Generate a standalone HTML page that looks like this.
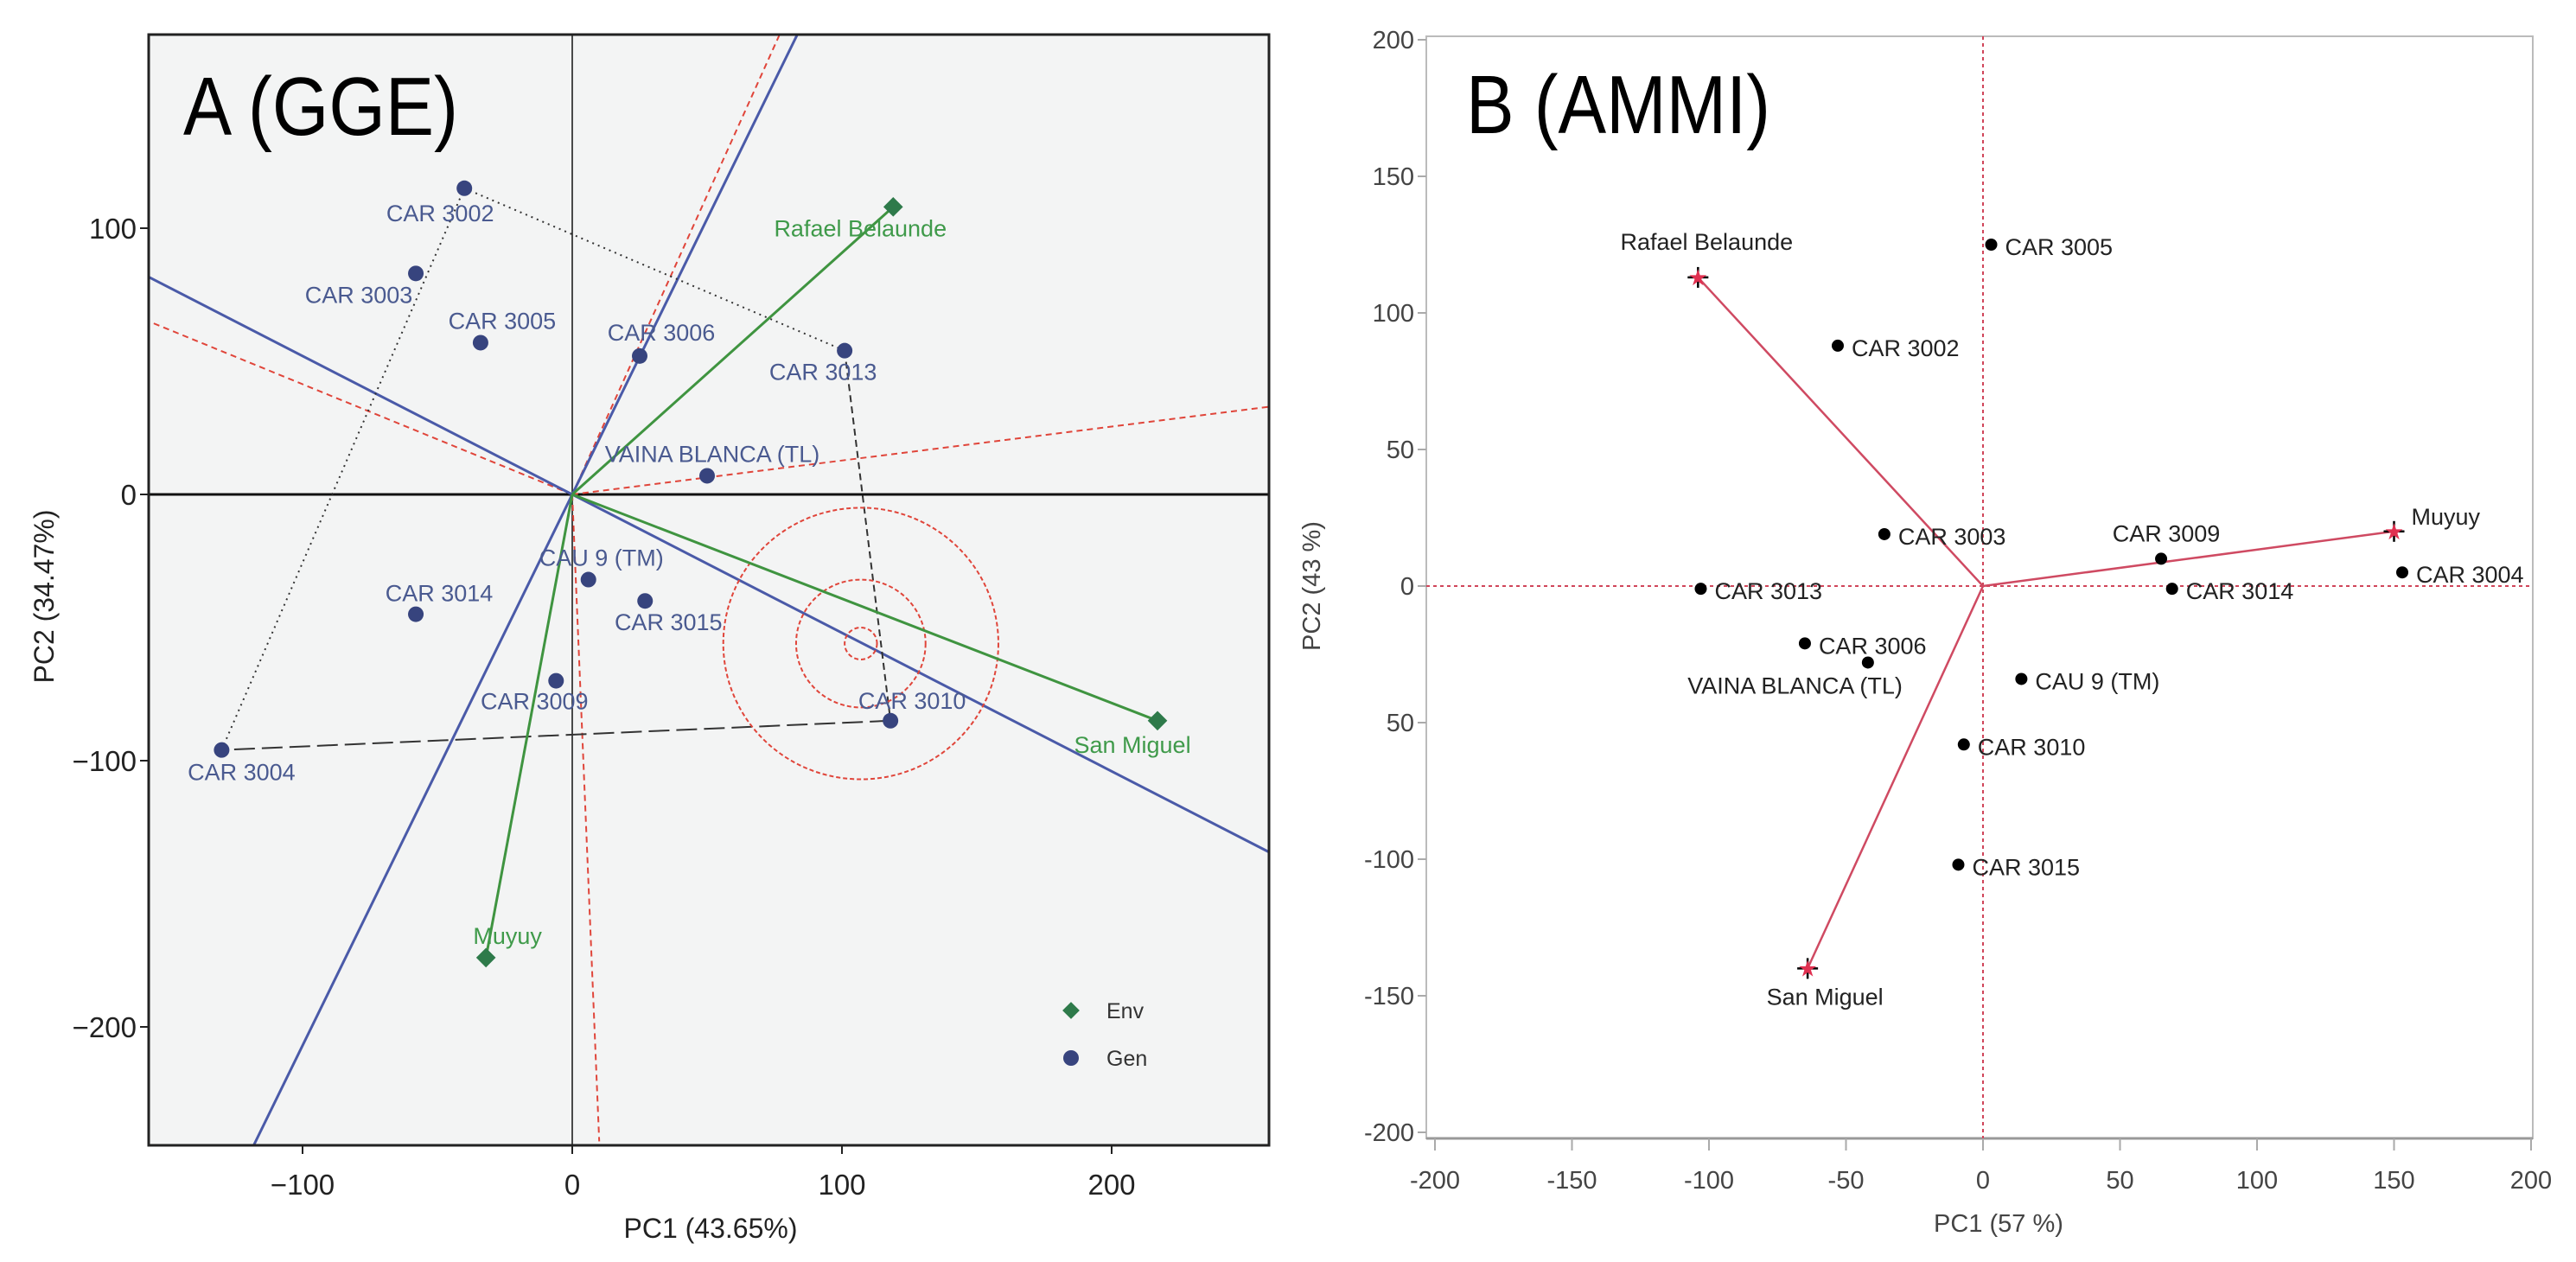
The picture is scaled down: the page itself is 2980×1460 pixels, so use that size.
<!DOCTYPE html>
<html><head><meta charset="utf-8"><style>
html,body{margin:0;padding:0;background:#fff;overflow:hidden;width:2980px;height:1460px}
svg{display:block}
text{font-family:"Liberation Sans",sans-serif}
</style></head><body>
<svg id="chart" width="2980" height="1460" viewBox="0 0 2980 1460" xmlns="http://www.w3.org/2000/svg">
<defs><clipPath id="clipA"><rect x="172" y="40" width="1296" height="1285"/></clipPath></defs>
<g id="pa"></g>
<g id="pb"></g>
</svg>
<script>
// ---------- Panel A (GGE) data ----------
const genNamesA = ["CAR 3002","CAR 3003","CAR 3005","CAR 3006","CAR 3013","VAINA BLANCA (TL)","CAU 9 (TM)","CAR 3015","CAR 3014","CAR 3009","CAR 3004","CAR 3010"];
const genPC1A = [-40,-58,-34,25,101,50,6,27,-58,-6,-130,118];
const genPC2A = [115,83,57,52,54,7,-32,-40,-45,-70,-96,-85];
const envNamesA = ["Rafael Belaunde","San Miguel","Muyuy"];
const envPC1A = [119,217,-32];
const envPC2A = [108,-85,-174];
const xTicksA = [-100,0,100,200];
const yTicksA = [100,0,-100,-200];
const blueSlopesA = [2.07,-0.52];
const redRayEndsX = [77,10,-157,259];
const redRayEndsY = [173,-243,65,33];
const circleCenterA = [107,-56];
const circleRadiiA = [51,24,6];
// ---------- Panel B (AMMI) data ----------
const genNamesB = ["CAR 3005","CAR 3002","CAR 3003","CAR 3013","CAR 3006","VAINA BLANCA (TL)","CAU 9 (TM)","CAR 3010","CAR 3015","CAR 3009","CAR 3014","CAR 3004"];
const genPC1B = [3,-53,-36,-103,-65,-42,14,-7,-9,65,69,153];
const genPC2B = [125,88,19,-1,-21,-28,-34,-58,-102,10,-1,5];
const envNamesB = ["Rafael Belaunde","Muyuy","San Miguel"];
const envPC1B = [-104,150,-64];
const envPC2B = [113,20,-140];
const xTicksB = [-200,-150,-100,-50,0,50,100,150,200];
const yTicksB = [200,150,100,50,0,-50,-100,-150,-200];
const yTickTextB = ["200","150","100","50","0","50","-100","-150","-200"];

const NS="http://www.w3.org/2000/svg";
function mk(parent,tag,attrs,txt){const e=document.createElementNS(NS,tag);for(const k in attrs)e.setAttribute(k,attrs[k]);if(txt!==undefined)e.textContent=txt;parent.appendChild(e);return e;}

// ===== Panel A =====
const A=document.getElementById('pa');
const AL=172,AR=1468,AT=40,AB=1325;
const xA=v=>662+3.12*v, yA=v=>572-3.08*v;
// clip a pixel segment to panel A box (Liang-Barsky)
function clipSeg(x1,y1,x2,y2){
  let t0=0,t1=1;const dx=x2-x1,dy=y2-y1;
  const p=[-dx,dx,-dy,dy],q=[x1-AL,AR-x1,y1-AT,AB-y1];
  for(let i=0;i<4;i++){
    if(p[i]===0){if(q[i]<0)return null;continue;}
    const r=q[i]/p[i];
    if(p[i]<0){if(r>t1)return null;if(r>t0)t0=r;}else{if(r<t0)return null;if(r<t1)t1=r;}
  }
  return {x1:x1+t0*dx,y1:y1+t0*dy,x2:x1+t1*dx,y2:y1+t1*dy};
}
let e;
e=mk(A,'rect',{x:AL,y:AT,width:AR-AL,height:AB-AT,fill:'#f3f4f4'});


const GA=mk(A,'g',{'clip-path':'url(#clipA)'});
e=mk(GA,'line',{x1:AL,x2:AR,y1:yA(0),y2:yA(0),stroke:'#111','stroke-width':3});


e=mk(GA,'line',{x1:xA(0),x2:xA(0),y1:AT,y2:AB,stroke:'#111','stroke-width':1.5});


for(let i=0;i<redRayEndsX.length;i++){
  const c=clipSeg(xA(0),yA(0),xA(redRayEndsX[i]),yA(redRayEndsY[i]));
  if(!c)continue;
  e=mk(GA,'line',{x1:c.x1,y1:c.y1,x2:c.x2,y2:c.y2,stroke:'#e0453a','stroke-width':2,'stroke-dasharray':'7,5'});
  
  
}
for(const s of blueSlopesA){
  const x1=-400,x2=400;
  const c=clipSeg(xA(x1),yA(s*x1),xA(x2),yA(s*x2));
  if(!c)continue;
  e=mk(GA,'line',{x1:c.x1,y1:c.y1,x2:c.x2,y2:c.y2,stroke:'#4a5aa8','stroke-width':3});
  
  
}
const polyIdx=[0,4,11,10];
const polyDash=['2,5','8,5','24,8','2,5'];
for(let i=0;i<polyIdx.length;i++){
  const a=polyIdx[i],b=polyIdx[(i+1)%polyIdx.length];
  e=mk(GA,'line',{x1:xA(genPC1A[a]),y1:yA(genPC2A[a]),x2:xA(genPC1A[b]),y2:yA(genPC2A[b]),stroke:'#333','stroke-width':2,'stroke-dasharray':polyDash[i]});
  
  
}
for(const r of circleRadiiA){
  e=mk(GA,'ellipse',{cx:xA(circleCenterA[0]),cy:yA(circleCenterA[1]),rx:r*3.12,ry:r*3.08,fill:'none',stroke:'#e0453a','stroke-width':2,'stroke-dasharray':'5,3'});
  
  
}
for(let i=0;i<envNamesA.length;i++){
  e=mk(GA,'line',{x1:xA(0),y1:yA(0),x2:xA(envPC1A[i]),y2:yA(envPC2A[i]),stroke:'#3f9440','stroke-width':3});
  
  
}
const genLabOffA=[[-28,38],[-66,34],[25,-16],[25,-18],[-25,34],[6,-16],[15,-16],[27,34],[27,-15],[-25,33],[23,35],[25,-14]];
for(let i=0;i<genNamesA.length;i++){
  const px=xA(genPC1A[i]),py=yA(genPC2A[i]);
  e=mk(GA,'circle',{cx:px,cy:py,r:9,fill:'#37447e'});
  
  
  e=mk(GA,'text',{x:px+genLabOffA[i][0],y:py+genLabOffA[i][1],'text-anchor':'middle','font-size':27,fill:'#4a5a90'},genNamesA[i]);
  
  
}
const envLabOffA=[[-38,34],[-29,37],[25,-16]];
for(let i=0;i<envNamesA.length;i++){
  const px=xA(envPC1A[i]),py=yA(envPC2A[i]);
  e=mk(GA,'rect',{x:px-8,y:py-8,width:16,height:16,fill:'#2e7a4a',transform:`rotate(45 ${px} ${py})`});
  
  
  e=mk(GA,'text',{x:px+envLabOffA[i][0],y:py+envLabOffA[i][1],'text-anchor':'middle','font-size':27,fill:'#3f9a4a'},envNamesA[i]);
  
  
}
e=mk(A,'rect',{x:AL,y:AT,width:AR-AL,height:AB-AT,fill:'none',stroke:'#222','stroke-width':3});


for(const t of xTicksA){
  mk(A,'line',{x1:xA(t),x2:xA(t),y1:AB,y2:AB+10,stroke:'#222','stroke-width':2});
  e=mk(A,'text',{x:xA(t),y:1382,'text-anchor':'middle','font-size':33,fill:'#222'},t<0?'\u2212'+(-t):String(t));
  
  
}
for(const t of yTicksA){
  mk(A,'line',{x1:AL-10,x2:AL,y1:yA(t),y2:yA(t),stroke:'#222','stroke-width':2});
  e=mk(A,'text',{x:AL-14,y:yA(t)+12,'text-anchor':'end','font-size':33,fill:'#222'},t<0?'\u2212'+(-t):String(t));
  
  
}
e=mk(A,'text',{x:822,y:1432,'text-anchor':'middle','font-size':32,fill:'#222'},'PC1 (43.65%)');


e=mk(A,'text',{x:0,y:0,'text-anchor':'middle','font-size':32,fill:'#222',transform:'translate(62,690) rotate(-90)'},'PC2 (34.47%)');


e=mk(A,'text',{x:212,y:156,'font-size':96,fill:'#000',textLength:318,lengthAdjust:'spacingAndGlyphs'},'A (GGE)');


e=mk(A,'rect',{x:1232,y:1162,width:14,height:14,fill:'#2e7a4a',transform:'rotate(45 1239 1169)'});


e=mk(A,'text',{x:1280,y:1178,'font-size':25,fill:'#333'},'Env');


e=mk(A,'circle',{cx:1239,cy:1224,r:9,fill:'#37447e'});


e=mk(A,'text',{x:1280,y:1233,'font-size':25,fill:'#333'},'Gen');



// ===== Panel B =====
const B=document.getElementById('pb');
const BL=1650,BR=2930,BT=42,BB=1317;
const xB=v=>2294+3.17*v, yB=v=>678-3.16*v;
e=mk(B,'rect',{x:BL,y:BT,width:BR-BL,height:BB-BT,fill:'#fff',stroke:'#bbb','stroke-width':2});


mk(B,'line',{x1:BL,x2:BR,y1:BB,y2:BB,stroke:'#999','stroke-width':3});
e=mk(B,'line',{x1:BL,x2:BR,y1:yB(0),y2:yB(0),stroke:'#d0455a','stroke-width':2,'stroke-dasharray':'4,4'});


e=mk(B,'line',{x1:xB(0),x2:xB(0),y1:BT,y2:BB,stroke:'#d0455a','stroke-width':2,'stroke-dasharray':'4,4'});


for(const t of xTicksB){
  mk(B,'line',{x1:xB(t),x2:xB(t),y1:BB,y2:BB+14,stroke:'#aaa','stroke-width':2});
  e=mk(B,'text',{x:xB(t),y:1375,'text-anchor':'middle','font-size':29,fill:'#444'},String(t));
  
  
}
for(let i=0;i<yTicksB.length;i++){
  const t=yTicksB[i];
  mk(B,'line',{x1:BL-10,x2:BL,y1:yB(t),y2:yB(t),stroke:'#aaa','stroke-width':2});
  e=mk(B,'text',{x:BL-14,y:yB(t)+10,'text-anchor':'end','font-size':29,fill:'#444'},yTickTextB[i]);
  
  
}
for(let i=0;i<envNamesB.length;i++){
  e=mk(B,'line',{x1:xB(0),y1:yB(0),x2:xB(envPC1B[i]),y2:yB(envPC2B[i]),stroke:'#cf4a62','stroke-width':2.5});
  
  
}
const labB=[['start',16,12],['start',16,12],['start',16,12],['start',16,12],['start',16,12],['end',40,36],['start',16,12],['start',16,12],['start',16,12],['middle',6,-20],['start',16,12],['start',16,12]];
for(let i=0;i<genNamesB.length;i++){
  const px=xB(genPC1B[i]),py=yB(genPC2B[i]);
  e=mk(B,'circle',{cx:px,cy:py,r:7,fill:'#000'});
  
  
  e=mk(B,'text',{x:px+labB[i][1],y:py+labB[i][2],'text-anchor':labB[i][0],'font-size':27,fill:'#222'},genNamesB[i]);
  
  
}
const envLabB=[['middle',10,-32],['start',20,-8],['middle',20,42]];
for(let i=0;i<envNamesB.length;i++){
  const px=xB(envPC1B[i]),py=yB(envPC2B[i]);
  mk(B,'line',{x1:px-12,x2:px+12,y1:py,y2:py,stroke:'#000','stroke-width':2.5});
  mk(B,'line',{x1:px,x2:px,y1:py-12,y2:py+12,stroke:'#000','stroke-width':2.5});
  e=mk(B,'text',{x:px,y:py+9,'text-anchor':'middle','font-size':26,fill:'#e03050'},'\u2605');
  
  
  e=mk(B,'text',{x:px+envLabB[i][1],y:py+envLabB[i][2],'text-anchor':envLabB[i][0],'font-size':27,fill:'#222'},envNamesB[i]);
  
  
}
e=mk(B,'text',{x:2312,y:1425,'text-anchor':'middle','font-size':29,fill:'#444'},'PC1  (57 %)');


e=mk(B,'text',{x:0,y:0,'text-anchor':'middle','font-size':29,fill:'#444',transform:'translate(1527,678) rotate(-90)'},'PC2  (43 %)');


e=mk(B,'text',{x:1696,y:154,'font-size':96,fill:'#000',textLength:352,lengthAdjust:'spacingAndGlyphs'},'B (AMMI)');


</script>
</body></html>
